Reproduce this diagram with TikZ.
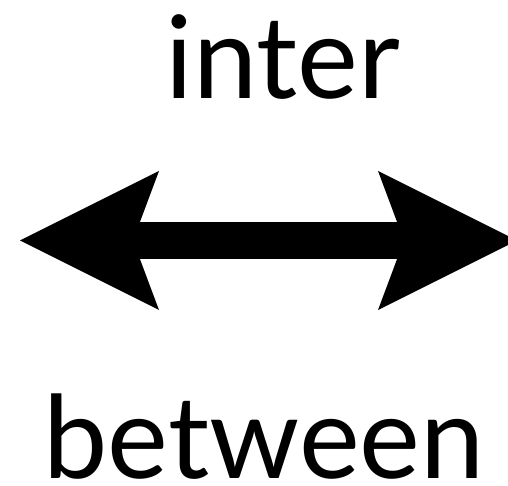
\documentclass[tikz,border=0pt]{standalone}
\usepackage{fontspec}
\setmainfont{Lato}
\usetikzlibrary{arrows.meta}

\begin{document}
\begin{tikzpicture}[
    x=1pt, y=1pt,
    word/.style={anchor=base, inner sep=0pt, text depth=0pt, font=\fontsize{115}{120}\selectfont},
    bigarrow/.style={line width=37pt,
        {Stealth[length=139pt, width=139pt, inset=26pt, line width=0pt]}-{Stealth[length=139pt, width=139pt, inset=26pt, line width=0pt]}}
]
\useasboundingbox (0,0) rectangle (508,485);

% Words
\node[word] (inter) at (283,386) {inter};
\node[word] (between) at (264,7) {between};

% Arrow
\coordinate (lefttip) at (20,244.5);
\coordinate (righttip) at (517,244.5);
\draw[bigarrow] (lefttip) -- (righttip);

\end{tikzpicture}
\end{document}
